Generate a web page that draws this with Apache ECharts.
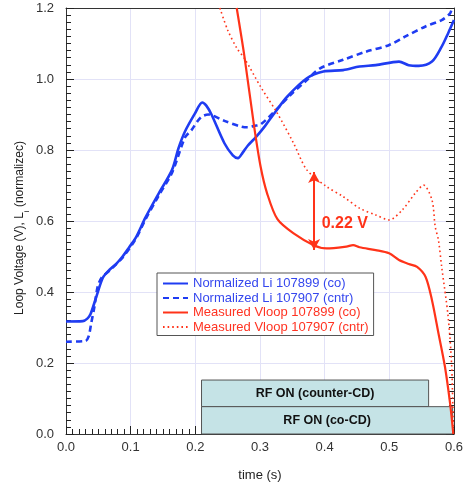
<!DOCTYPE html>
<html>
<head>
<meta charset="utf-8">
<script src="https://cdn.jsdelivr.net/npm/echarts@6/dist/echarts.min.js"></script>
<style>
  html, body { margin: 0; padding: 0; background: #fff; }
  #chart { width: 466px; height: 487px; }
</style>
</head>
<body>
<div id="chart"></div>
<script>
// Normalized internal inductance, shot 107899 (co-CD), [time s, value]
const liCo = [
  [0, 0.317], [0.026, 0.318], [0.033, 0.325], [0.038, 0.338], [0.047, 0.387],
  [0.057, 0.440], [0.067, 0.462], [0.077, 0.478], [0.0875, 0.500], [0.098, 0.527],
  [0.108, 0.553], [0.123, 0.610], [0.1435, 0.678], [0.164, 0.744], [0.174, 0.805],
  [0.184, 0.852], [0.1995, 0.903], [0.2107, 0.934], [0.217, 0.925], [0.225, 0.900],
  [0.245, 0.819], [0.258, 0.785], [0.266, 0.777], [0.273, 0.792], [0.281, 0.812],
  [0.294, 0.837], [0.308, 0.868], [0.322, 0.903], [0.342, 0.950], [0.3725, 1.002],
  [0.398, 1.021], [0.4285, 1.025], [0.454, 1.035], [0.479, 1.039], [0.515, 1.049],
  [0.530, 1.039], [0.5455, 1.037], [0.566, 1.049], [0.581, 1.091], [0.591, 1.129],
  [0.600, 1.166]
];
// Normalized internal inductance, shot 107907 (counter-CD)
const liCntr = [
  [0, 0.260], [0.030, 0.262], [0.035, 0.275], [0.039, 0.312], [0.044, 0.359],
  [0.049, 0.415], [0.055, 0.440], [0.067, 0.460], [0.0875, 0.497], [0.108, 0.550],
  [0.123, 0.605], [0.1435, 0.672], [0.164, 0.736], [0.184, 0.835], [0.194, 0.856],
  [0.203, 0.880], [0.210, 0.894], [0.220, 0.900], [0.245, 0.882], [0.271, 0.866],
  [0.281, 0.864], [0.291, 0.868], [0.301, 0.872], [0.327, 0.917], [0.347, 0.955],
  [0.3725, 0.997], [0.393, 1.030], [0.4285, 1.054], [0.464, 1.077], [0.500, 1.096],
  [0.525, 1.120], [0.556, 1.148], [0.581, 1.166], [0.594, 1.185], [0.597, 1.200]
];
// Measured loop voltage, shot 107899 (co-CD)
const vloopCo = [
  [0.264, 1.200], [0.276, 1.063], [0.291, 0.866], [0.301, 0.753], [0.311, 0.678],
  [0.327, 0.605], [0.352, 0.565], [0.383, 0.532], [0.403, 0.523], [0.4336, 0.528],
  [0.444, 0.532], [0.454, 0.526], [0.479, 0.518], [0.4997, 0.509], [0.515, 0.490],
  [0.530, 0.479], [0.543, 0.471], [0.556, 0.443], [0.566, 0.377], [0.576, 0.284],
  [0.586, 0.190], [0.594, 0.086], [0.599, 0.000]
];
// Measured loop voltage, shot 107907 (counter-CD)
const vloopCntr = [
  [0.238, 1.200], [0.250, 1.138], [0.2645, 1.086], [0.276, 1.058], [0.301, 0.978],
  [0.327, 0.903], [0.352, 0.819], [0.3725, 0.744], [0.403, 0.697], [0.4285, 0.669],
  [0.454, 0.636], [0.479, 0.617], [0.4997, 0.603], [0.520, 0.631], [0.540, 0.678],
  [0.553, 0.701], [0.566, 0.659], [0.571, 0.584], [0.576, 0.546], [0.581, 0.471],
  [0.591, 0.330], [0.5965, 0.190], [0.599, 0.000]
];

const seriesNames = [
  'Normalized Li 107899 (co)',
  'Normalized Li 107907 (cntr)',
  'Measured Vloop 107899 (co)',
  'Measured Vloop 107907 (cntr)'
];

// RF heating windows: [t start, t end, y bottom, y top, label]
const rfCounter = [0.2096, 0.5608, 0.077, 0.152, 'RF ON (counter-CD)'];
const rfCo = [0.2096, 0.598, 0, 0.077, 'RF ON (co-CD)'];

// Loop-voltage difference marker
const gapTime = 0.3837;
const gapLow = 0.518;
const gapValue = 0.22;
const gapLabel = '0.22 V';

const BLUE = '#1f3cf2';
const RED = '#ff3319';
const BLUE_TXT = '#3547ee';
const RED_TXT = '#ff3322';
const TICK = '#222';
const FONT = '"Liberation Sans", Arial, sans-serif';

const chart = echarts.init(document.getElementById('chart'));

chart.setOption({
  animation: false,
  grid: { left: 66, right: 7, top: 8, bottom: 53 },
  legend: {
    orient: 'vertical',
    left: 157,
    top: 273,
    padding: [4, 5, 2, 5],
    itemGap: 1.5,
    itemWidth: 25,
    itemHeight: 10,
    backgroundColor: '#fff',
    borderColor: '#555',
    borderWidth: 1,
    selectedMode: false,
    itemStyle: { opacity: 0 },
    textStyle: { fontFamily: FONT, fontSize: 13, lineHeight: 13 },
    data: [
      { name: seriesNames[0], textStyle: { color: BLUE_TXT } },
      { name: seriesNames[1], textStyle: { color: BLUE_TXT } },
      { name: seriesNames[2], textStyle: { color: RED_TXT } },
      { name: seriesNames[3], textStyle: { color: RED_TXT } }
    ]
  },
  xAxis: [
    { type: 'value', min: 0, max: 0.6, interval: 0.1, position: 'bottom',
      name: 'time (s)', nameLocation: 'middle', nameGap: 35, nameMoveOverlap: false,
      nameTextStyle: { fontFamily: FONT, fontSize: 13, color: '#222' },
      axisLine: { show: true, onZero: false, lineStyle: { color: '#333', width: 1 } },
      axisTick: { show: true, inside: true, length: 8, lineStyle: { color: TICK, width: 1 } },
      minorTick: { show: false },
      axisLabel: { fontFamily: FONT, fontSize: 13, color: '#333', margin: 7, formatter: v => v.toFixed(1) },
      splitLine: { show: true, lineStyle: { color: '#e2e2f7' } } },
    { type: 'value', min: 0, max: 0.6, interval: 0.1, position: 'top',
      axisLine: { show: true, onZero: false, lineStyle: { color: '#333', width: 1 } },
      axisTick: { show: false }, axisLabel: { show: false }, splitLine: { show: false } },
    // minor ticks of the time axis, pointing up into the plot
    { type: 'value', min: 0, max: 0.6, interval: 0.1, position: 'bottom', offset: -5,
      axisLine: { show: false, onZero: false },
      axisTick: { show: false },
      minorTick: { show: true, splitNumber: 10, length: 5, lineStyle: { color: TICK, width: 1 } },
      axisLabel: { show: false }, splitLine: { show: false } }
  ],
  yAxis: [
    { type: 'value', min: 0, max: 1.2, interval: 0.2, position: 'left',
      name: '{a|Loop Voltage (V), L}{s|i}{a| (normalizec)}',
      nameLocation: 'middle', nameGap: 40, nameRotate: 90, nameMoveOverlap: false,
      nameTextStyle: {
        padding: [0, 14, 0, 0],
        rich: {
          a: { fontFamily: FONT, fontSize: 12, color: '#222' },
          s: { fontFamily: FONT, fontSize: 8, color: '#222', verticalAlign: 'bottom', padding: [0, 0, -5, 0] }
        }
      },
      axisLine: { show: true, onZero: false, lineStyle: { color: '#333', width: 1 } },
      axisTick: { show: true, inside: true, length: 8, lineStyle: { color: TICK, width: 1 } },
      minorTick: { show: false },
      axisLabel: { fontFamily: FONT, fontSize: 13, color: '#333', margin: 12, formatter: v => v.toFixed(1) },
      splitLine: { show: true, lineStyle: { color: '#e2e2f7' } } },
    { type: 'value', min: 0, max: 1.2, interval: 0.2, position: 'right',
      axisLine: { show: true, onZero: false, lineStyle: { color: '#333', width: 1 } },
      axisTick: { show: true, inside: true, length: 8, lineStyle: { color: TICK, width: 1 } },
      axisLabel: { show: false }, splitLine: { show: false } },
    // minor ticks on the left frame, pointing right into the plot
    { type: 'value', min: 0, max: 1.2, interval: 0.2, position: 'left', offset: -5,
      axisLine: { show: false, onZero: false },
      axisTick: { show: false },
      minorTick: { show: true, splitNumber: 10, length: 5, lineStyle: { color: TICK, width: 1 } },
      axisLabel: { show: false }, splitLine: { show: false } },
    // minor ticks on the right frame, pointing left into the plot
    { type: 'value', min: 0, max: 1.2, interval: 0.2, position: 'right', offset: -5,
      axisLine: { show: false, onZero: false },
      axisTick: { show: false },
      minorTick: { show: true, splitNumber: 10, length: 5, lineStyle: { color: TICK, width: 1 } },
      axisLabel: { show: false }, splitLine: { show: false } }
  ],
  series: [
    {
      name: seriesNames[0], type: 'line', data: liCo, smooth: 0.3,
      symbol: 'none',
      itemStyle: { color: BLUE },
      lineStyle: { color: BLUE, width: 2.6 },
      // RF timing boxes, drawn beneath the traces
      markArea: {
        silent: true,
        z: 1,
        itemStyle: { color: '#c5e3e6', borderColor: '#555', borderWidth: 1 },
        label: {
          show: true, position: 'inside', fontFamily: FONT,
          fontSize: 12.5, fontWeight: 'bold', color: '#111'
        },
        data: [
          [{ name: rfCounter[4], xAxis: rfCounter[0], yAxis: rfCounter[2] },
           { xAxis: rfCounter[1], yAxis: rfCounter[3] }],
          [{ name: rfCo[4], xAxis: rfCo[0], yAxis: rfCo[2] },
           { xAxis: rfCo[1], yAxis: rfCo[3] }]
        ]
      }
    },
    {
      name: seriesNames[1], type: 'line', data: liCntr, smooth: 0.3,
      symbol: 'none',
      itemStyle: { color: BLUE },
      lineStyle: { color: BLUE, width: 2.6, type: [6, 4] }
    },
    {
      name: seriesNames[2], type: 'line', data: vloopCo, smooth: 0.3,
      symbol: 'none',
      itemStyle: { color: RED },
      lineStyle: { color: RED, width: 2.2 },
      markLine: {
        silent: true,
        symbol: ['arrow', 'arrow'],
        symbolSize: [9, 11],
        lineStyle: { color: RED, width: 2, type: 'solid' },
        label: { show: false },
        data: [[
          { coord: [gapTime, gapLow] },
          { coord: [gapTime, gapLow + gapValue] }
        ]]
      },
      markPoint: {
        silent: true,
        symbol: 'circle',
        symbolSize: 0,
        label: {
          show: true, position: 'right', distance: 0, formatter: gapLabel,
          fontFamily: FONT, fontSize: 16, fontWeight: 'bold', color: RED
        },
        data: [{ coord: [0.3954, 0.5915] }]
      }
    },
    {
      name: seriesNames[3], type: 'line', data: vloopCntr, smooth: 0.3,
      symbol: 'none',
      itemStyle: { color: RED },
      lineStyle: { color: RED, width: 1.6, type: [1.6, 3] }
    }
  ]
});
</script>
</body>
</html>
